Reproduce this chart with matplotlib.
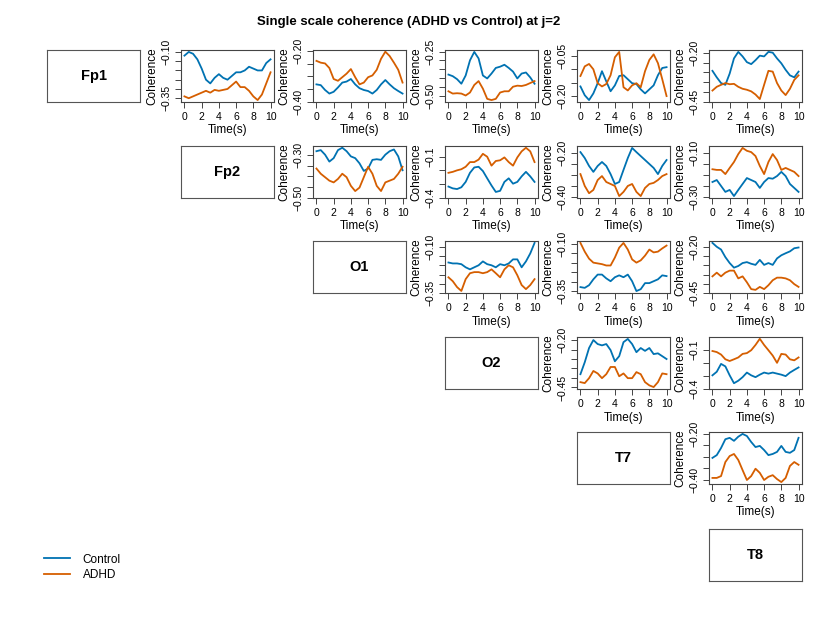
import matplotlib
matplotlib.use('Agg')
import matplotlib.pyplot as plt

plt.rcParams['font.family'] = ['Liberation Sans', 'DejaVu Sans']

CTRL_COLOR = '#0072B2'
ADHD_COLOR = '#D55E00'

channels = ['Fp1', 'Fp2', 'O1', 'O2', 'T7', 'T8']
time_s = [0, 0.5, 1, 1.5, 2, 2.5, 3, 3.5, 4, 4.5, 5, 5.5, 6, 6.5, 7, 7.5, 8, 8.5, 9, 9.5, 10]

# row Fp1
ctrl_fp1_fp2 = [-0.12, -0.10, -0.11, -0.14, -0.19, -0.25, -0.27, -0.24, -0.22, -0.24, -0.25,
                -0.23, -0.21, -0.21, -0.20, -0.18, -0.19, -0.20, -0.20, -0.16, -0.14]
adhd_fp1_fp2 = [-0.34, -0.35, -0.34, -0.33, -0.32, -0.31, -0.32, -0.305, -0.31, -0.305, -0.30,
                -0.28, -0.26, -0.29, -0.29, -0.31, -0.34, -0.36, -0.33, -0.27, -0.21]
ctrl_fp1_o1 = [-0.331, -0.334, -0.353, -0.367, -0.36, -0.343, -0.324, -0.32, -0.31, -0.331, -0.346,
               -0.353, -0.357, -0.367, -0.353, -0.331, -0.314, -0.331, -0.346, -0.357, -0.367]
adhd_fp1_o1 = [-0.239, -0.246, -0.249, -0.267, -0.31, -0.317, -0.303, -0.289, -0.271, -0.303, -0.331,
               -0.324, -0.303, -0.296, -0.274, -0.231, -0.203, -0.22, -0.246, -0.274, -0.324]
ctrl_fp1_o2 = [-0.381, -0.39, -0.407, -0.433, -0.386, -0.30, -0.252, -0.289, -0.386, -0.403, -0.375,
               -0.343, -0.336, -0.325, -0.343, -0.364, -0.403, -0.375, -0.369, -0.397, -0.433]
adhd_fp1_o2 = [-0.476, -0.489, -0.487, -0.489, -0.50, -0.483, -0.44, -0.418, -0.461, -0.519, -0.526,
               -0.519, -0.483, -0.476, -0.476, -0.45, -0.444, -0.446, -0.44, -0.429, -0.418]
ctrl_fp1_t7 = [-0.164, -0.197, -0.215, -0.19, -0.152, -0.107, -0.145, -0.182, -0.16, -0.125, -0.122,
               -0.137, -0.152, -0.155, -0.175, -0.19, -0.175, -0.16, -0.122, -0.095, -0.092]
adhd_fp1_t7 = [-0.125, -0.089, -0.08, -0.10, -0.152, -0.164, -0.155, -0.122, -0.055, -0.035, -0.167,
               -0.179, -0.16, -0.152, -0.167, -0.107, -0.065, -0.044, -0.077, -0.137, -0.20]
ctrl_fp1_t8 = [-0.292, -0.325, -0.354, -0.363, -0.306, -0.229, -0.196, -0.219, -0.248, -0.258, -0.238,
               -0.215, -0.219, -0.196, -0.20, -0.229, -0.254, -0.287, -0.315, -0.325, -0.296]
adhd_fp1_t8 = [-0.392, -0.373, -0.363, -0.354, -0.36, -0.358, -0.373, -0.383, -0.388, -0.396, -0.412,
               -0.435, -0.363, -0.292, -0.296, -0.354, -0.392, -0.415, -0.383, -0.338, -0.315]

# row Fp2
ctrl_fp2_o1 = [-0.284, -0.279, -0.30, -0.332, -0.316, -0.279, -0.268, -0.284, -0.308, -0.316, -0.34,
               -0.375, -0.364, -0.324, -0.321, -0.324, -0.30, -0.284, -0.276, -0.308, -0.372]
adhd_fp2_o1 = [-0.364, -0.388, -0.404, -0.42, -0.428, -0.412, -0.388, -0.404, -0.444, -0.468, -0.452,
               -0.404, -0.356, -0.388, -0.444, -0.468, -0.428, -0.42, -0.412, -0.388, -0.356]
ctrl_fp2_o2 = [-0.317, -0.33, -0.335, -0.322, -0.283, -0.217, -0.178, -0.173, -0.204, -0.257, -0.309,
               -0.356, -0.348, -0.283, -0.257, -0.296, -0.283, -0.243, -0.21, -0.243, -0.283]
adhd_fp2_o2 = [-0.217, -0.21, -0.199, -0.191, -0.173, -0.139, -0.139, -0.121, -0.079, -0.10, -0.165,
               -0.131, -0.126, -0.105, -0.139, -0.165, -0.105, -0.061, -0.035, -0.061, -0.139]
ctrl_fp2_t7 = [-0.195, -0.222, -0.258, -0.285, -0.258, -0.24, -0.258, -0.295, -0.34, -0.331, -0.276,
               -0.222, -0.176, -0.195, -0.213, -0.231, -0.249, -0.267, -0.295, -0.258, -0.231]
adhd_fp2_t7 = [-0.295, -0.349, -0.382, -0.367, -0.322, -0.304, -0.331, -0.34, -0.349, -0.395, -0.376,
               -0.349, -0.34, -0.376, -0.395, -0.358, -0.34, -0.335, -0.322, -0.304, -0.295]
ctrl_fp2_t8 = [-0.231, -0.222, -0.249, -0.276, -0.267, -0.295, -0.267, -0.24, -0.213, -0.222, -0.231,
               -0.258, -0.231, -0.213, -0.216, -0.204, -0.185, -0.204, -0.24, -0.258, -0.276]
adhd_fp2_t8 = [-0.173, -0.176, -0.176, -0.195, -0.167, -0.14, -0.104, -0.076, -0.089, -0.095, -0.113,
               -0.158, -0.195, -0.14, -0.104, -0.131, -0.176, -0.167, -0.176, -0.185, -0.204]

# row O1
ctrl_o1_o2 = [-0.185, -0.19, -0.19, -0.194, -0.211, -0.222, -0.211, -0.20, -0.179, -0.194, -0.20,
              -0.211, -0.194, -0.20, -0.19, -0.168, -0.168, -0.211, -0.179, -0.136, -0.079]
adhd_o1_o2 = [-0.265, -0.286, -0.318, -0.339, -0.275, -0.243, -0.237, -0.237, -0.243, -0.237, -0.222,
              -0.243, -0.265, -0.222, -0.20, -0.211, -0.254, -0.307, -0.329, -0.307, -0.275]
ctrl_o1_t7 = [-0.329, -0.333, -0.319, -0.288, -0.263, -0.263, -0.283, -0.298, -0.277, -0.267, -0.277,
              -0.263, -0.298, -0.35, -0.34, -0.308, -0.308, -0.298, -0.288, -0.267, -0.271]
adhd_o1_t7 = [-0.096, -0.142, -0.179, -0.20, -0.204, -0.208, -0.215, -0.215, -0.173, -0.121, -0.096,
              -0.131, -0.183, -0.20, -0.188, -0.163, -0.131, -0.146, -0.142, -0.125, -0.11]
ctrl_o1_t8 = [-0.179, -0.20, -0.215, -0.256, -0.288, -0.313, -0.304, -0.288, -0.283, -0.292, -0.298,
              -0.271, -0.298, -0.288, -0.298, -0.263, -0.246, -0.235, -0.225, -0.208, -0.204]
adhd_o1_t8 = [-0.36, -0.34, -0.36, -0.34, -0.329, -0.329, -0.371, -0.36, -0.392, -0.429, -0.433,
              -0.417, -0.429, -0.408, -0.381, -0.367, -0.367, -0.371, -0.381, -0.402, -0.417]

# row O2
ctrl_o2_t7 = [-0.38, -0.317, -0.242, -0.20, -0.221, -0.228, -0.221, -0.253, -0.312, -0.285, -0.211,
              -0.194, -0.221, -0.264, -0.242, -0.257, -0.242, -0.274, -0.27, -0.285, -0.30]
adhd_o2_t7 = [-0.422, -0.427, -0.401, -0.363, -0.376, -0.401, -0.38, -0.342, -0.342, -0.391, -0.376,
              -0.401, -0.401, -0.369, -0.38, -0.422, -0.439, -0.448, -0.422, -0.376, -0.38]
ctrl_o2_t8 = [-0.296, -0.269, -0.209, -0.228, -0.296, -0.356, -0.337, -0.31, -0.275, -0.296, -0.31,
              -0.291, -0.275, -0.283, -0.275, -0.283, -0.291, -0.302, -0.275, -0.255, -0.236]
adhd_o2_t8 = [-0.111, -0.119, -0.138, -0.174, -0.187, -0.174, -0.16, -0.133, -0.127, -0.105, -0.065,
              -0.018, -0.065, -0.105, -0.146, -0.201, -0.133, -0.138, -0.174, -0.182, -0.16]

# row T7
ctrl_t7_t8 = [-0.304, -0.292, -0.261, -0.223, -0.217, -0.23, -0.212, -0.20, -0.209, -0.235, -0.257,
              -0.252, -0.27, -0.292, -0.287, -0.278, -0.252, -0.278, -0.282, -0.27, -0.217]
adhd_t7_t8 = [-0.391, -0.391, -0.383, -0.322, -0.296, -0.287, -0.313, -0.357, -0.40, -0.383, -0.351,
              -0.369, -0.40, -0.386, -0.379, -0.396, -0.409, -0.391, -0.339, -0.322, -0.334]

# y axis: (top label, bottom label, tick step)
yaxis_fp1 = [('-0.10', '-0.35', 0.05), ('-0.20', '-0.40', 0.05), ('-0.25', '-0.50', 0.05),
             ('-0.05', '-0.20', 0.05), ('-0.20', '-0.45', 0.05)]
yaxis_fp2 = [('-0.30', '-0.50', 0.05), ('-0.1', '-0.4', 0.1), ('-0.20', '-0.40', 0.05),
             ('-0.10', '-0.30', 0.05)]
yaxis_o1 = [('-0.10', '-0.35', 0.05), ('-0.10', '-0.35', 0.05), ('-0.20', '-0.45', 0.05)]
yaxis_o2 = [('-0.20', '-0.45', 0.05), ('-0.1', '-0.4', 0.1)]
yaxis_t7 = [('-0.20', '-0.40', 0.05)]

panels = [
    (0, 1, ctrl_fp1_fp2, adhd_fp1_fp2, yaxis_fp1[0]),
    (0, 2, ctrl_fp1_o1, adhd_fp1_o1, yaxis_fp1[1]),
    (0, 3, ctrl_fp1_o2, adhd_fp1_o2, yaxis_fp1[2]),
    (0, 4, ctrl_fp1_t7, adhd_fp1_t7, yaxis_fp1[3]),
    (0, 5, ctrl_fp1_t8, adhd_fp1_t8, yaxis_fp1[4]),
    (1, 2, ctrl_fp2_o1, adhd_fp2_o1, yaxis_fp2[0]),
    (1, 3, ctrl_fp2_o2, adhd_fp2_o2, yaxis_fp2[1]),
    (1, 4, ctrl_fp2_t7, adhd_fp2_t7, yaxis_fp2[2]),
    (1, 5, ctrl_fp2_t8, adhd_fp2_t8, yaxis_fp2[3]),
    (2, 3, ctrl_o1_o2, adhd_o1_o2, yaxis_o1[0]),
    (2, 4, ctrl_o1_t7, adhd_o1_t7, yaxis_o1[1]),
    (2, 5, ctrl_o1_t8, adhd_o1_t8, yaxis_o1[2]),
    (3, 4, ctrl_o2_t7, adhd_o2_t7, yaxis_o2[0]),
    (3, 5, ctrl_o2_t8, adhd_o2_t8, yaxis_o2[1]),
    (4, 5, ctrl_t7_t8, adhd_t7_t8, yaxis_t7[0]),
]

W, H = 817, 629
col_left = [47, 181, 313, 445, 577, 709]
row_top = [50, 146, 241, 337, 432, 529]
cell_w, cell_h = 93, 52
FRAME = '#444444'


def px_axes(fig, left, top, w, h):
    return fig.add_axes([left / W, 1 - (top + h) / H, w / W, h / H])


fig = plt.figure(figsize=(W / 100, H / 100), dpi=100)
fig.text(409 / W, 1 - 22 / H, 'Single scale coherence (ADHD vs Control) at j=2',
         ha='center', va='center', fontsize=9.5, fontweight='bold')

# diagonal name boxes
for i, name in enumerate(channels):
    ax = px_axes(fig, col_left[i], row_top[i], cell_w, cell_h)
    ax.set_xticks([])
    ax.set_yticks([])
    for sp in ax.spines.values():
        sp.set_color('#555555')
        sp.set_linewidth(0.8)
    ax.text(0.5, 0.5, name, ha='center', va='center', fontsize=10.5, fontweight='bold',
            transform=ax.transAxes)

for r, c, ctrl, adhd, (top_lab, bot_lab, step) in panels:
    ax = px_axes(fig, col_left[c], row_top[r], cell_w, cell_h)
    ax.plot(time_s, ctrl, color=CTRL_COLOR, lw=1.3)
    ax.plot(time_s, adhd, color=ADHD_COLOR, lw=1.3)
    ax.margins(x=0.04, y=0.04)
    ax.set_xticks([0, 2, 4, 6, 8, 10])
    hi, lo = float(top_lab), float(bot_lab)
    n = int(round((hi - lo) / step))
    yt = [lo + k * step for k in range(n + 1)]
    ylab = [''] * len(yt)
    ylab[0] = bot_lab.replace('-', '\u2212')
    ylab[-1] = top_lab.replace('-', '\u2212')
    ax.set_yticks(yt)
    ax.set_yticklabels(ylab, rotation=90, va='center')
    ax.tick_params(labelsize=7.5, length=4.5, width=0.7, color=FRAME, pad=2.5)
    for sp in ax.spines.values():
        sp.set_color(FRAME)
        sp.set_linewidth(0.8)
    ax.set_xlabel('Time(s)', fontsize=8.5, labelpad=2)
    ax.set_ylabel('Coherence', fontsize=8.5, labelpad=2)

handles = [plt.Line2D([], [], color=CTRL_COLOR, lw=1.3),
           plt.Line2D([], [], color=ADHD_COLOR, lw=1.3)]
fig.legend(handles, ['Control', 'ADHD'], loc='upper left',
           bbox_to_anchor=(33 / W, 1 - 543 / H), frameon=False, fontsize=8.5,
           handlelength=2.2, handletextpad=1.1, labelspacing=0.3)

fig.savefig('out.png', dpi=100)
